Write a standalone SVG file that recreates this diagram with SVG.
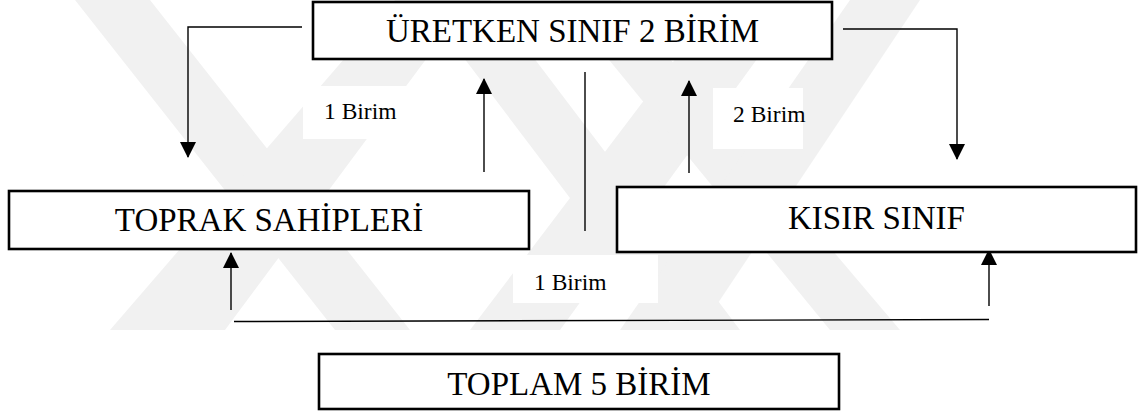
<svg xmlns="http://www.w3.org/2000/svg" width="1138" height="414" viewBox="0 0 1138 414">
<style>
.box{fill:#fff;stroke:#000;stroke-width:2.6}
.bt{font-family:"Liberation Serif","Times New Roman",serif;font-size:33px;fill:#000;text-anchor:middle}
.lt{font-family:"Liberation Serif","Times New Roman",serif;font-size:23.5px;fill:#000}
.ln{fill:none;stroke:#000;stroke-width:1.4}
.wm{fill:#f1f1f1}
.lbg{fill:#fff}
</style>
<defs>
<marker id="ah" markerUnits="userSpaceOnUse" markerWidth="16" markerHeight="16" viewBox="0 0 16 16" refX="15" refY="8" orient="auto">
<path d="M0,0 L16,8 L0,16 Z" fill="#000"/>
</marker>
</defs>
<rect width="1138" height="414" fill="#fff"/>
<g id="watermark">
<polygon class="wm" points="75,0 150,0 410,330 335,330"/>
<polygon class="wm" points="110,330 225,330 470,0 395,0"/>
<polygon class="wm" points="420,0 490,0 740,330 670,330"/>
<polygon class="wm" points="470,330 560,330 800,0 720,0"/>
<polygon class="wm" points="560,0 620,0 900,330 830,330"/>
<polygon class="wm" points="620,330 700,330 920,0 850,0"/>
</g>
<g id="label-bgs">
<rect class="lbg" x="303" y="86" width="135" height="53"/>
<rect class="lbg" x="713" y="88" width="90" height="61"/>
<rect class="lbg" x="513" y="255" width="145" height="48"/>
</g>
<g id="connectors">
<polyline class="ln" points="302,27 188,27 188,157" marker-end="url(#ah)"/>
<polyline class="ln" points="843,29 957,29 957,159" marker-end="url(#ah)"/>
<line class="ln" x1="484" y1="172" x2="484" y2="79" marker-end="url(#ah)"/>
<line class="ln" x1="689" y1="173" x2="689" y2="81" marker-end="url(#ah)"/>
<line class="ln" x1="585" y1="72" x2="585" y2="231"/>
<line class="ln" x1="231" y1="310" x2="231" y2="253" marker-end="url(#ah)"/>
<line class="ln" x1="989" y1="306" x2="989" y2="250" marker-end="url(#ah)"/>
<line class="ln" x1="234" y1="321.5" x2="989" y2="319.5"/>
<text class="lt" x="324" y="119">1 Birim</text>
<text class="lt" x="733" y="122">2 Birim</text>
<text class="lt" x="534" y="290">1 Birim</text>
</g>
<g id="node-uretken">
<rect class="box" x="313" y="2" width="519" height="57"/>
<text class="bt" x="572.5" y="42">ÜRETKEN SINIF 2 BİRİM</text>
</g>
<g id="node-toprak">
<rect class="box" x="9" y="191" width="520" height="58"/>
<text class="bt" x="269" y="231">TOPRAK SAHİPLERİ</text>
</g>
<g id="node-kisir">
<rect class="box" x="617" y="187" width="519" height="65"/>
<text class="bt" x="876.5" y="229">KISIR SINIF</text>
</g>
<g id="node-toplam">
<rect class="box" x="319" y="354" width="520" height="55"/>
<text class="bt" x="579" y="395">TOPLAM 5 BİRİM</text>
</g>
</svg>
